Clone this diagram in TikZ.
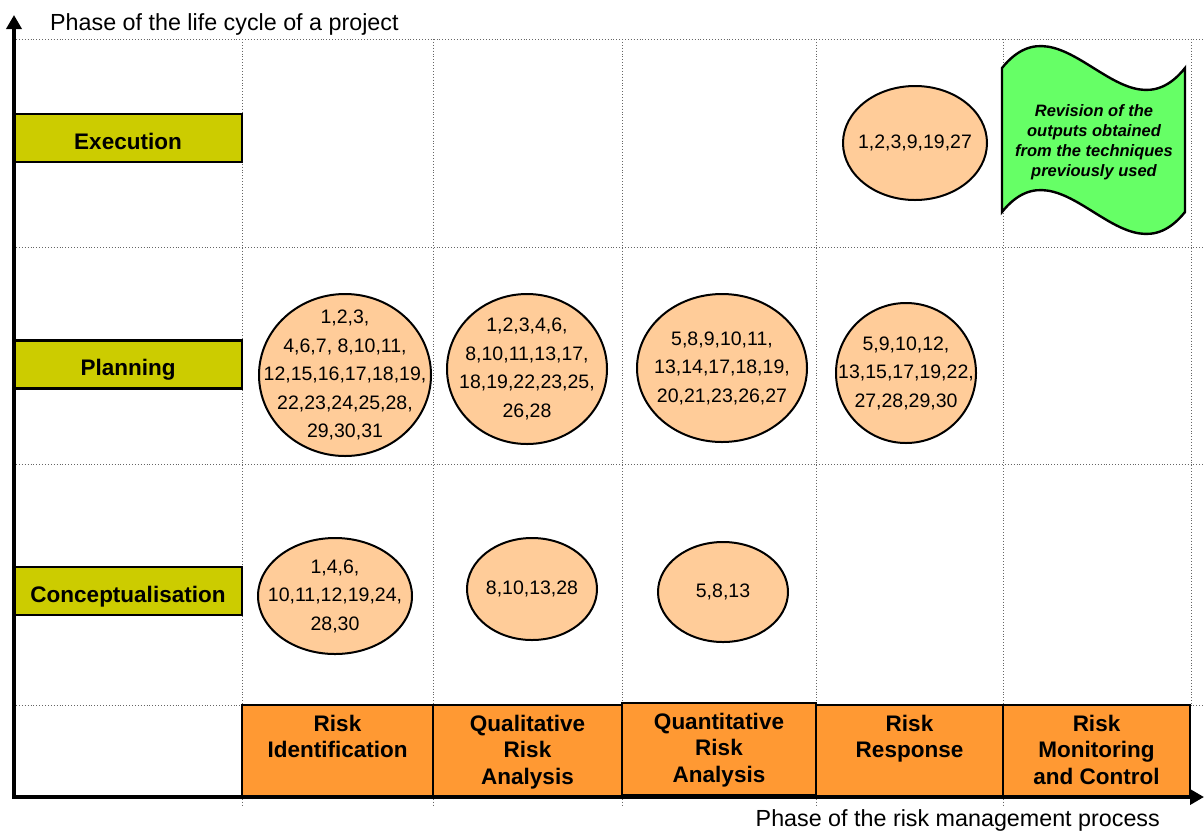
\documentclass[tikz,border=0pt]{standalone}
\usepackage{fontspec}
\setmainfont{Liberation Sans}
\usepackage{tikz}
\usetikzlibrary{arrows.meta,shapes.geometric,positioning}

\definecolor{rowcol}{HTML}{CCCC00}
\definecolor{stepcol}{HTML}{FF9933}
\definecolor{techcol}{HTML}{FFCC99}
\definecolor{revcol}{HTML}{66FF66}

\begin{document}
\begin{tikzpicture}[x=1pt,y=-1pt,
  phase/.style={draw,line width=2.6pt,fill=rowcol,minimum width=228pt,minimum height=48pt,inner sep=0pt,text height=22pt,text depth=0pt,font=\fontsize{22.5}{27}\selectfont\bfseries},
  stepbox/.style={draw,line width=2.6pt,fill=stepcol,minimum height=92pt,inner sep=0pt},
  steptext/.style={inner sep=0pt,align=center,font=\fontsize{22.5}{26.5}\selectfont\bfseries},
  tech/.style={ellipse,draw,line width=2pt,fill=techcol,inner sep=-60pt,align=center,font=\fontsize{19.5}{28.5}\selectfont},
  gridline/.style={black!60,dotted,line width=0.9pt}]
\useasboundingbox (0,0) rectangle (1204,831);

% grid
\foreach \y in {39,247,464,705} \draw[gridline] (16,\y) -- (1204,\y);
\foreach \x in {242,433,622,816,1003} \draw[gridline] (\x,39) -- (\x,806);
\draw[gridline] (1191,39) -- (1191,705);

% life cycle phases
\node[phase] (exe) at (128,138) {Execution};
\node[phase] (pla) at (128,364.5) {Planning};
\node[phase] (con) at (128,591) {Conceptualisation};

% risk management process
\node[stepbox,minimum width=191pt] (ri) at (337.5,751) {};
\node[stepbox,minimum width=189pt] (qra) at (527.5,751) {};
\node[stepbox,minimum width=194pt] (qnra) at (719,749) {};
\node[stepbox,minimum width=187pt] (rr) at (909.5,751) {};
\node[stepbox,minimum width=187pt] (rmc) at (1096.5,751) {};
\node[steptext,below=11pt of ri.north] (riT) {Risk\\Identification};
\node[steptext,below=11pt of qra.north] (qraT) {Qualitative\\Risk\\Analysis};
\node[steptext,below=11pt of qnra.north] (qnraT) {Quantitative\\Risk\\Analysis};
\node[steptext,below=11pt of rr.north] (rrT) {Risk\\Response};
\node[steptext,below=11pt of rmc.north] (rmcT) {Risk\\Monitoring\\and Control};

% techniques
\node[tech,minimum width=144pt,minimum height=114pt] (exeRR) at (915,143) {1,2,3,9,19,27};
\node[tech,minimum width=172pt,minimum height=162pt] (plaRI) at (345,375) {1,2,3,\\4,6,7, 8,10,11,\\12,15,16,17,18,19,\\22,23,24,25,28,\\29,30,31};
\node[tech,minimum width=160pt,minimum height=150pt] (plaQRA) at (527,369) {1,2,3,4,6,\\8,10,11,13,17,\\18,19,22,23,25,\\26,28};
\node[tech,minimum width=170pt,minimum height=148pt] (plaQNRA) at (722,368) {5,8,9,10,11,\\13,14,17,18,19,\\20,21,23,26,27};
\node[tech,minimum width=140pt,minimum height=140pt] (plaRR) at (906,373) {5,9,10,12,\\13,15,17,19,22,\\27,28,29,30};
\node[tech,minimum width=154pt,minimum height=116pt] (conRI) at (335,596) {1,4,6,\\10,11,12,19,24,\\28,30};
\node[tech,minimum width=130pt,minimum height=102pt] (conQRA) at (532,589) {8,10,13,28};
\node[tech,minimum width=130pt,minimum height=100pt] (conQNRA) at (723,592) {5,8,13};

% revision
\draw[line width=2.4pt,fill=revcol] (1002,68) .. controls (1063,-8) and (1124,144) .. (1185,68)
  -- (1185,212) .. controls (1124,288) and (1063,136) .. (1002,212) -- cycle;
\node[align=center,inner sep=0pt,font=\fontsize{16.5}{20}\selectfont\bfseries\itshape] (rev) at (1094,142.5)
  {Revision of the\\outputs obtained\\from the techniques\\previously used};

% axes
\coordinate (O) at (14,797);
\coordinate (ytop) at (14,15);
\coordinate (xend) at (1204,797);
\draw[line width=3.6pt,-{Triangle[length=14pt,width=15pt]}] ([yshift=2pt]O) -- (ytop);
\draw[line width=3.6pt,-{Triangle[length=14pt,width=15pt]}] ([xshift=-2pt]O) -- (xend);
\node[anchor=base west,inner sep=0pt,font=\fontsize{23.3}{28}\selectfont] (ylab) at (50,30) {Phase of the life cycle of a project};
\node[anchor=base east,inner sep=0pt,font=\fontsize{23.3}{28}\selectfont] (xlab) at (1160,826) {Phase of the risk management process};
\end{tikzpicture}
\end{document}
